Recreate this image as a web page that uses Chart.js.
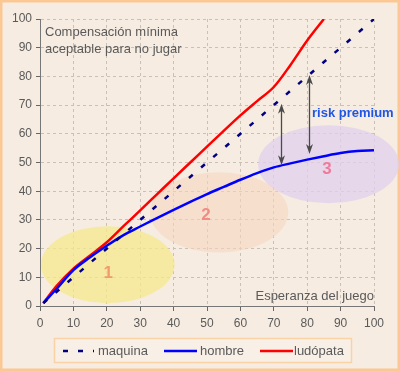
<!DOCTYPE html>
<html>
<head>
<meta charset="utf-8">
<script src="https://cdn.jsdelivr.net/npm/chart.js@4/dist/chart.umd.min.js"></script>
<style>
  html, body { margin: 0; padding: 0; background: #f6ece1; }
  #wrap { width: 400px; height: 371px; }
</style>
</head>
<body>
<div id="wrap"><canvas id="c" width="400" height="371"></canvas></div>
<script>
// chart values
var xTicks = [0, 10, 20, 30, 40, 50, 60, 70, 80, 90, 100];
var yTicks = [0, 10, 20, 30, 40, 50, 60, 70, 80, 90, 100];

var maquinaX = [1, 100];
var maquinaY = [1, 100];

var hombreX = [1, 5, 10, 15, 20, 25, 30, 35, 40, 45, 50, 55, 60, 65, 70, 75, 80, 85, 90, 95, 100];
var hombreY = [1, 6, 12.5, 17, 21, 24.7, 27.7, 30.6, 33.5, 36.3, 39, 41.5, 44, 46.3, 48.3, 49.7, 51, 52.2, 53.3, 54, 54.3];

var ludopataX = [1, 5, 10, 15, 20, 25, 30, 35, 40, 45, 50, 55, 60, 65, 70, 75, 80, 85];
var ludopataY = [1, 7, 13, 17.6, 22.2, 27.8, 33.3, 38.9, 44.5, 50, 55.5, 61, 66.4, 71.4, 76.3, 84, 92.5, 100];

// highlighted zones: centre x, centre y, radius x, radius y (data units)
var zoneNames = ['1', '2', '3'];
var zoneCx = [20.3, 53.6, 86.4];
var zoneCy = [14.4, 32.6, 49.4];
var zoneRx = [20, 20.7, 21.1];
var zoneRy = [13.4, 14, 13.6];

// risk premium arrows: x, top y, bottom y
var arrowX = [72.2, 80.5];
var arrowTop = [70.5, 80.5];
var arrowBottom = [49, 53];

function pts(xs, ys) {
  return xs.map(function (x, i) { return { x: x, y: ys[i] }; });
}

var font = "'Liberation Sans', Arial, sans-serif";
var textGray = '#5a5a5a';

var decor = {
  id: 'decor',
  beforeDraw: function (chart) {
    var ctx = chart.ctx;
    ctx.save();
    ctx.fillStyle = '#f6ece1';
    ctx.fillRect(0, 0, chart.width, chart.height);
    ctx.strokeStyle = '#fbc894';
    ctx.lineWidth = 2.5;
    ctx.strokeRect(1.25, 1.25, chart.width - 2.5, chart.height - 2.5);
    ctx.restore();
  },
  beforeDatasetsDraw: function (chart) {
    var ctx = chart.ctx;
    var xs = chart.scales.x, ys = chart.scales.y;
    var fills = ['rgba(246,234,140,0.75)', 'rgba(248,214,190,0.55)', 'rgba(226,208,236,0.75)'];
    var labelColors = ['#f39a6c', '#f38a84', '#f07a9c'];
    ctx.save();
    zoneNames.forEach(function (n, i) {
      var cx = xs.getPixelForValue(zoneCx[i]);
      var cy = ys.getPixelForValue(zoneCy[i]);
      var rx = xs.getPixelForValue(zoneCx[i] + zoneRx[i]) - cx;
      var ry = cy - ys.getPixelForValue(zoneCy[i] + zoneRy[i]);
      ctx.beginPath();
      ctx.ellipse(cx, cy, rx, ry, 0, 0, Math.PI * 2);
      ctx.fillStyle = fills[i];
      ctx.fill();
    });
    ctx.font = 'bold 17px ' + font;
    ctx.textAlign = 'center';
    ctx.textBaseline = 'middle';
    var lx = [20.4, 49.7, 85.9], ly = [11.5, 31.5, 47.5];
    zoneNames.forEach(function (n, i) {
      ctx.fillStyle = labelColors[i];
      ctx.fillText(n, xs.getPixelForValue(lx[i]), ys.getPixelForValue(ly[i]));
    });

    // axis captions
    ctx.fillStyle = textGray;
    ctx.font = '13px ' + font;
    ctx.textAlign = 'left';
    ctx.textBaseline = 'middle';
    ctx.fillText('Compensación mínima', 45, 32);
    ctx.fillText('aceptable para no jugar', 45, 49);
    ctx.textAlign = 'right';
    ctx.fillText('Esperanza del juego', chart.chartArea.right, 296);
    ctx.restore();
  },
  afterDatasetsDraw: function (chart) {
    var ctx = chart.ctx;
    var xs = chart.scales.x, ys = chart.scales.y;
    ctx.save();
    ctx.strokeStyle = '#4a4a4a';
    ctx.fillStyle = '#4a4a4a';
    ctx.lineWidth = 1.3;
    arrowX.forEach(function (x, i) {
      var px = Math.round(xs.getPixelForValue(x)) + 0.5;
      var t = ys.getPixelForValue(arrowTop[i]);
      var b = ys.getPixelForValue(arrowBottom[i]);
      ctx.beginPath();
      ctx.moveTo(px, t + 4);
      ctx.lineTo(px, b - 4);
      ctx.stroke();
      [[t, 1], [b, -1]].forEach(function (e) {
        ctx.beginPath();
        ctx.moveTo(px, e[0]);
        ctx.lineTo(px - 3.5, e[0] + 10 * e[1]);
        ctx.lineTo(px, e[0] + 7 * e[1]);
        ctx.lineTo(px + 3.5, e[0] + 10 * e[1]);
        ctx.closePath();
        ctx.fill();
      });
    });
    ctx.fillStyle = '#1f55e6';
    ctx.font = 'bold 13px ' + font;
    ctx.textAlign = 'left';
    ctx.textBaseline = 'middle';
    ctx.fillText('risk premium', 312, 113);
    ctx.restore();
  },
  afterDraw: function (chart) {
    var ctx = chart.ctx;
    ctx.save();
    ctx.fillStyle = '#f8efe6';
    ctx.fillRect(54, 338, 298, 25);
    ctx.strokeStyle = '#fad2a6';
    ctx.lineWidth = 1.5;
    ctx.strokeRect(54.5, 338.5, 297, 24);
    var items = [[63, 98, [5, 10]], [164, 200, []], [260, 294, []]];
    ctx.font = '13px ' + font;
    ctx.textBaseline = 'middle';
    ctx.textAlign = 'left';
    chart.data.datasets.forEach(function (ds, i) {
      var it = items[i];
      ctx.beginPath();
      ctx.strokeStyle = ds.borderColor;
      ctx.lineWidth = 2.5;
      ctx.setLineDash(it[2]);
      ctx.moveTo(it[0], 351);
      ctx.lineTo(it[0] + (i === 0 ? 31 : 33), 351);
      ctx.stroke();
      ctx.setLineDash([]);
      ctx.fillStyle = textGray;
      ctx.fillText(ds.label, it[1], 351);
    });
    ctx.restore();
  }
};

var config = {
  type: 'line',
  data: {
    datasets: [
      {
        label: 'maquina',
        data: pts(maquinaX, maquinaY),
        borderColor: '#000080',
        borderWidth: 2.5,
        borderDash: [5, 11],
        pointRadius: 0,
        fill: false
      },
      {
        label: 'hombre',
        data: pts(hombreX, hombreY),
        borderColor: '#0000ff',
        borderWidth: 2.5,
        cubicInterpolationMode: 'monotone',
        pointRadius: 0,
        fill: false
      },
      {
        label: 'ludópata',
        data: pts(ludopataX, ludopataY),
        borderColor: '#ff0000',
        borderWidth: 2.5,
        cubicInterpolationMode: 'monotone',
        pointRadius: 0,
        fill: false
      }
    ]
  },
  options: {
    responsive: false,
    animation: false,
    events: [],
    layout: { padding: { left: 0, top: 19, right: 26, bottom: 0 } },
    plugins: {
      legend: { display: false },
      tooltip: { enabled: false },
      title: { display: false }
    },
    scales: {
      x: {
        type: 'linear',
        min: 0,
        max: 100,
        afterBuildTicks: function (s) { s.ticks = xTicks.map(function (v) { return { value: v }; }); },
        afterFit: function (s) { s.height = 65; },
        ticks: { color: textGray, font: { family: font, size: 12 }, padding: 5, maxRotation: 0 },
        grid: {
          color: '#c9c0b6',
          lineWidth: 1,
          tickLength: 5,
          tickColor: '#666',
          tickBorderDash: []
        },
        border: { color: '#777', width: 1, dash: [3, 3] }
      },
      y: {
        type: 'linear',
        min: 0,
        max: 100,
        afterBuildTicks: function (s) { s.ticks = yTicks.map(function (v) { return { value: v }; }); },
        afterFit: function (s) { s.width = 40; },
        ticks: { color: textGray, font: { family: font, size: 12 }, padding: 4 },
        grid: {
          color: '#c9c0b6',
          lineWidth: 1,
          tickLength: 4,
          tickColor: '#666',
          tickBorderDash: []
        },
        border: { color: '#777', width: 1, dash: [3, 3] }
      }
    }
  },
  plugins: [decor]
};

var chart = new Chart(document.getElementById('c').getContext('2d'), config);
</script>
</body>
</html>
